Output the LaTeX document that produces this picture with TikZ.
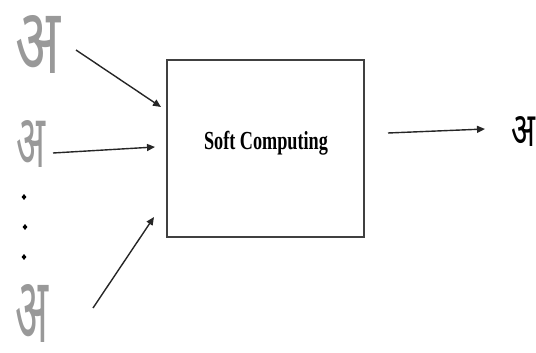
\documentclass[tikz,border=0pt]{standalone}
\usepackage{fontspec}
\setmainfont{Liberation Serif}
\newfontfamily\devfont[Script=Devanagari]{Noto Sans}
\usetikzlibrary{arrows.meta,shapes.geometric}
\tikzset{
  flow/.style={draw=black!85, line width=1.4pt, -{Triangle[length=8pt,width=7pt]}},
  hand/.style={inner sep=0pt, text=black!40, font=\devfont},
  dot/.style={diamond, fill=black, inner sep=0pt, minimum width=5pt, minimum height=6pt},
  procbox/.style={draw=black!75, line width=1.4pt, minimum width=197pt, minimum height=177pt, inner sep=0pt}
}
\begin{document}
\begin{tikzpicture}[x=1pt,y=-1pt]
\useasboundingbox (0,0) rectangle (536,353);
% processing block
\node[procbox] (sc) at (265.5,148.5) {};
\node[inner sep=0pt] (lbl) at (266,143) {\scalebox{0.7}[1]{\fontsize{26}{28}\selectfont\bfseries Soft Computing}};
% input letters
\node[hand, anchor=north west] (in1) at (15,15) {\resizebox*{45pt}{58pt}{अ}};
\node[hand, anchor=north west] (in2) at (16,120) {\resizebox*{29pt}{47pt}{अ}};
\node[hand, anchor=north west] (in3) at (15,284) {\resizebox*{33pt}{58pt}{अ}};
% ellipsis between inputs
\node[dot] (d1) at (24,197) {};
\node[dot] (d2) at (25,227) {};
\node[dot] (d3) at (24,257) {};
% output letter
\node[inner sep=0pt, anchor=north west] (out) at (511,116) {\resizebox*{24pt}{30pt}{\devfont अ}};
% arrow end points
\coordinate (s1) at (76,50);  \coordinate (t1) at (161,107);
\coordinate (s2) at (53,153); \coordinate (t2) at (155,147);
\coordinate (s3) at (93,308); \coordinate (t3) at (154,217);
\coordinate (s4) at (388,133); \coordinate (t4) at (485,129);
\draw[flow] (s1) -- (t1);
\draw[flow] (s2) -- (t2);
\draw[flow] (s3) -- (t3);
\draw[flow] (s4) -- (t4);
\end{tikzpicture}
\end{document}
